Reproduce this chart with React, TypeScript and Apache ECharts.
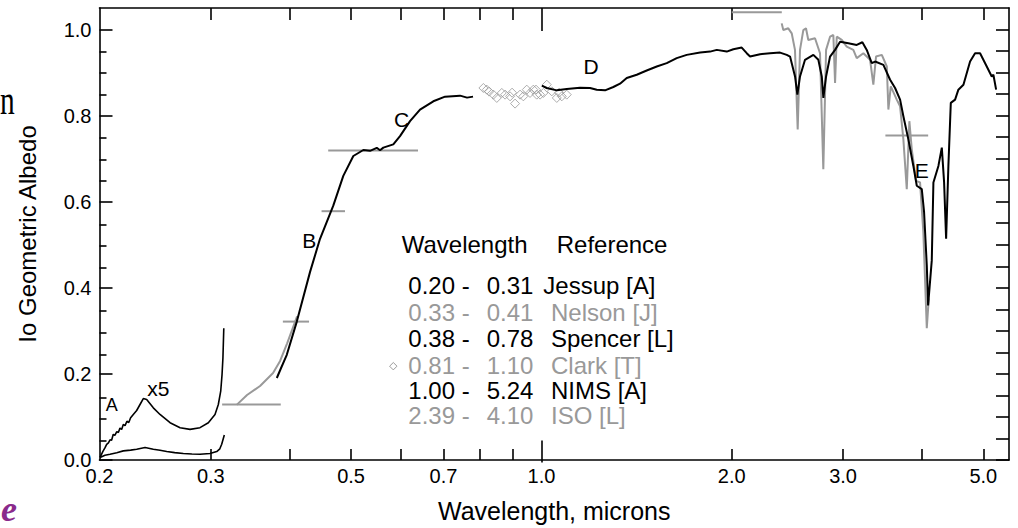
import React, { useEffect, useRef } from "react";
import * as echarts from "echarts";

// ---- axis definitions ----
const X_MIN = 0.2;
const X_MAX = 5.49;
const Y_MIN = 0;
const Y_MAX = 1.05;
const xLabelValues = [0.2, 0.3, 0.5, 0.7, 1.0, 2.0, 3.0, 5.0];
const xTickValues = [0.3, 0.4, 0.5, 0.6, 0.7, 0.8, 0.9, 2.0, 3.0, 4.0, 5.0];
const xLongTickValues = [1.0];
const yLabelValues = [0, 0.2, 0.4, 0.6, 0.8, 1.0];
const yMinorValues = [0.05, 0.1, 0.15, 0.25, 0.3, 0.35, 0.45, 0.5, 0.55, 0.65, 0.7, 0.75, 0.85, 0.9, 0.95];
const yRightValues = [0, 0.05, 0.1, 0.15, 0.2, 0.25, 0.3, 0.35, 0.4, 0.45, 0.5, 0.55, 0.6, 0.65, 0.7, 0.75, 0.8, 0.85, 0.9, 0.95, 1.0];

// ---- data: [wavelength (microns), geometric albedo] ----
const jessupRaw = [
  [0.2004, 0.0058], [0.204, 0.011], [0.2078, 0.0134], [0.213, 0.017], [0.2181, 0.0212], [0.224, 0.023],
  [0.229, 0.0249], [0.2361, 0.0289], [0.2433, 0.0249], [0.2493, 0.0225], [0.2555, 0.0196], [0.263, 0.0172],
  [0.2714, 0.015], [0.28, 0.014], [0.2884, 0.0134], [0.2991, 0.015], [0.3065, 0.0196], [0.31, 0.026],
  [0.3121, 0.0365], [0.3151, 0.0582],
];
const jessupX5 = [
  [0.2004, 0.006], [0.2025, 0.02], [0.204, 0.028], [0.2053, 0.0365], [0.2066, 0.04], [0.2078, 0.047],
  [0.209, 0.046], [0.2103, 0.0596], [0.2115, 0.057], [0.213, 0.066], [0.2142, 0.064], [0.2155, 0.074],
  [0.2168, 0.071], [0.2181, 0.0827], [0.2195, 0.08], [0.221, 0.09], [0.2225, 0.087], [0.224, 0.098],
  [0.2262, 0.1058], [0.229, 0.115], [0.2318, 0.1289], [0.2346, 0.1427], [0.2375, 0.1404], [0.2433, 0.1212],
  [0.2493, 0.1058], [0.2586, 0.0866], [0.2682, 0.0751], [0.2781, 0.0711], [0.2884, 0.0751], [0.2973, 0.0866],
  [0.3046, 0.1058], [0.3083, 0.1289], [0.311, 0.1598], [0.3125, 0.1982], [0.3135, 0.2367], [0.3145, 0.306],
];
const nelson = [
  [0.3296, 0.128], [0.3423, 0.151], [0.3589, 0.172], [0.3763, 0.202], [0.3861, 0.23], [0.3961, 0.271], [0.4107, 0.334],
];
const spencer = [
  [0.3815, 0.1905], [0.387, 0.212], [0.3956, 0.2443], [0.4103, 0.3215], [0.4306, 0.437], [0.4465, 0.5139],
  [0.4686, 0.5908], [0.486, 0.66], [0.5041, 0.7062], [0.5228, 0.7201], [0.5357, 0.7182], [0.549, 0.7252],
  [0.5556, 0.7194], [0.5623, 0.7256], [0.5831, 0.7333], [0.5975, 0.7524], [0.6197, 0.7871], [0.6427, 0.8141],
  [0.6746, 0.8333], [0.704, 0.8441], [0.7435, 0.8464], [0.7627, 0.8418], [0.7796, 0.8441],
];
const clark = [
  [0.8095, 0.8642], [0.8196, 0.8603], [0.8268, 0.8557], [0.8395, 0.8487], [0.85, 0.8411], [0.8656, 0.8527],
  [0.8761, 0.8487], [0.8921, 0.8448], [0.8987, 0.8533], [0.9085, 0.8279], [0.9252, 0.8487], [0.9363, 0.8448],
  [0.948, 0.8603], [0.9594, 0.8527], [0.971, 0.8603], [0.9804, 0.8603], [0.9831, 0.8487], [0.9952, 0.8487],
  [1.0072, 0.8527], [1.0198, 0.8718], [1.0385, 0.8564], [1.0576, 0.8411], [1.0664, 0.8533], [1.077, 0.8448],
  [1.0967, 0.8487],
];
const nims = [
  [1.0014, 0.8695], [1.0198, 0.8642], [1.0576, 0.8587], [1.0967, 0.8619], [1.1509, 0.8649], [1.1938, 0.8642],
  [1.2232, 0.8603], [1.2608, 0.8587], [1.2994, 0.8665], [1.3315, 0.8741], [1.3644, 0.8873], [1.415, 0.8949],
  [1.4674, 0.9048], [1.5221, 0.9141], [1.5784, 0.9219], [1.6369, 0.9335], [1.6975, 0.9411], [1.7825, 0.9464],
  [1.8485, 0.9487], [1.8941, 0.9527], [1.9639, 0.9487], [2.0116, 0.9543], [2.074, 0.958], [2.1122, 0.945],
  [2.138, 0.9372], [2.2174, 0.9427], [2.2996, 0.945], [2.3848, 0.9464], [2.4436, 0.9411], [2.4732, 0.9372],
  [2.5186, 0.891], [2.54, 0.8487], [2.5646, 0.891], [2.6118, 0.9296], [2.6924, 0.9411], [2.7418, 0.9296],
  [2.7762, 0.891], [2.7922, 0.8411], [2.82, 0.891], [2.8612, 0.9372], [2.9138, 0.9527], [2.9674, 0.9718],
  [3.0582, 0.9681], [3.1532, 0.9642], [3.2186, 0.9704], [3.2702, 0.9527], [3.3304, 0.9219], [3.3712, 0.9256],
  [3.4746, 0.918], [3.5604, 0.8834], [3.6258, 0.8642], [3.6924, 0.8372], [3.7368, 0.7986], [3.8054, 0.7448],
  [3.8752, 0.6831], [3.9238, 0.637], [3.996, 0.6293], [4.0294, 0.5762], [4.0694, 0.4522], [4.089, 0.3591],
  [4.144, 0.4637], [4.1688, 0.6448], [4.2454, 0.6831], [4.2984, 0.7256], [4.3342, 0.6455], [4.3662, 0.5139],
  [4.4026, 0.6831], [4.4414, 0.8296], [4.5114, 0.8372], [4.5658, 0.8603], [4.6506, 0.8718], [4.7644, 0.9256],
  [4.8518, 0.945], [4.941, 0.945], [5.0628, 0.9141], [5.1558, 0.891], [5.1868, 0.8949], [5.2384, 0.8603],
];
const iso = [
  [2.3992, 1.0143], [2.4132, 0.9988], [2.4574, 1.0028], [2.4882, 0.9912], [2.518, 0.9527], [2.543, 0.7679],
  [2.5646, 0.9527], [2.5956, 0.9988], [2.621, 1.0028], [2.6432, 0.9758], [2.7086, 0.9797], [2.7584, 0.945],
  [2.7918, 0.6755], [2.82, 0.9527], [2.8612, 0.9834], [2.8956, 0.9873], [2.9138, 0.8758], [2.9318, 0.9834],
  [2.9856, 0.9758], [3.0404, 0.9603], [3.1142, 0.9527], [3.1532, 0.9335], [3.2302, 0.945], [3.31, 0.9296],
  [3.3498, 0.8718], [3.3828, 0.9372], [3.4546, 0.9411], [3.518, 0.9141], [3.5384, 0.8141], [3.5694, 0.8679],
  [3.6478, 0.8372], [3.6924, 0.8217], [3.7368, 0.7448], [3.7834, 0.6293], [3.8194, 0.7871], [3.8528, 0.7217],
  [3.9136, 0.6485], [3.9708, 0.6448], [4.0186, 0.53], [4.0694, 0.306], [4.0994, 0.3753],
];
// broadband measurements (horizontal bars)
const barLo = [0.3126, 0.39, 0.449, 0.46, 2.0, 3.5];
const barHi = [0.387, 0.429, 0.489, 0.638, 2.4, 4.09];
const barLevel = [0.129, 0.3215, 0.578, 0.719, 1.04, 0.754];

// legend table text
const legendFrom = ["0.20 -", "0.33 -", "0.38 -", "0.81 -", "1.00 -", "2.39 -"];
const legendTo = ["0.31", "0.41", "0.78", "1.10", "5.24", "4.10"];
const legendRef = ["Jessup [A]", "Nelson [J]", "Spencer [L]", "Clark [T]", "NIMS [A]", "ISO [L]"];
const legendGray = [false, true, false, true, false, true];

const BLACK = "#000000";
const GRAY = "#999999";
const FONT = "'Liberation Sans', Arial, Helvetica, sans-serif";
const SERIF = "'Liberation Serif', 'DejaVu Serif', serif";

export default function App() {
  const ref = useRef<HTMLDivElement>(null);

  useEffect(() => {
    if (!ref.current) return;
    const chart = echarts.init(ref.current, null, { renderer: "svg" });
    const L = (v: number) => Math.log10(v);
    const toXY = (arr: number[][]) => arr.map(([w, a]) => [L(w), a]);
    const xmin = L(X_MIN);
    const xmax = L(X_MAX);
    const rect = { left: 99.5, right: 9, top: 8, bottom: 65.5 };
    const axisLineStyle = { color: BLACK, width: 1.6 };
    const tickStyle = { color: BLACK, width: 1.6 };

    const lineSeries = (data: number[][], color: string, width: number, z: number) => ({
      type: "line",
      xAxisIndex: 0,
      yAxisIndex: 0,
      data: toXY(data),
      symbol: "none",
      showSymbol: false,
      silent: true,
      lineStyle: { color, width },
      z,
    });

    const bars = barLo.map((lo, i) =>
      lineSeries([[lo, barLevel[i]], [barHi[i], barLevel[i]]], GRAY, 2, 2)
    );

    const rowY = [285.7, 312, 338.7, 365, 390.7, 415.7];
    const legendEls: any[] = [];
    legendEls.push(
      { type: "text", x: 401.7, y: 244.2, style: { text: "Wavelength", fontSize: 24, fontFamily: FONT, fill: BLACK, align: "left", verticalAlign: "middle" } },
      { type: "text", x: 556.7, y: 244.2, style: { text: "Reference", fontSize: 24, fontFamily: FONT, fill: BLACK, align: "left", verticalAlign: "middle" } }
    );
    legendFrom.forEach((f, i) => {
      const fill = legendGray[i] ? GRAY : BLACK;
      legendEls.push(
        { type: "text", x: 408.3, y: rowY[i], style: { text: f, fontSize: 24, fontFamily: FONT, fill, align: "left", verticalAlign: "middle" } },
        { type: "text", x: 486.7, y: rowY[i], style: { text: legendTo[i], fontSize: 24, fontFamily: FONT, fill, align: "left", verticalAlign: "middle" } },
        { type: "text", x: i === 0 ? 543.3 : 551, y: rowY[i], style: { text: legendRef[i], fontSize: 24, fontFamily: FONT, fill, align: "left", verticalAlign: "middle" } }
      );
    });
    legendEls.push({
      type: "polygon",
      shape: { points: [[393.3, 362.5], [397, 366.2], [393.3, 369.9], [389.6, 366.2]] },
      style: { fill: "none", stroke: GRAY, lineWidth: 1 },
    });

    const ann = (text: string, x: number, y: number, size: number) => ({
      type: "text",
      x,
      y,
      style: { text, fontSize: size, fontFamily: FONT, fill: BLACK, align: "center", verticalAlign: "middle" },
      z: 10,
    });

    const option: any = {
      animation: false,
      backgroundColor: "#ffffff",
      textStyle: { fontFamily: FONT },
      grid: [{ ...rect }, { ...rect }],
      xAxis: [
        {
          gridIndex: 0, type: "value", position: "bottom", min: xmin, max: xmax,
          axisLine: { show: true, onZero: false, lineStyle: axisLineStyle },
          splitLine: { show: false },
          axisTick: { show: true, inside: true, length: 11, customValues: xTickValues.map(L), lineStyle: tickStyle },
          axisLabel: {
            show: true, customValues: xLabelValues.map(L),
            formatter: (v: number) => Math.pow(10, v).toFixed(1),
            fontSize: 20, color: BLACK, fontFamily: FONT, margin: 6,
          },
          name: "Wavelength, microns", nameLocation: "middle", nameGap: 38,
          nameTextStyle: { fontSize: 25, color: BLACK, fontFamily: FONT },
        },
        {
          gridIndex: 0, type: "value", position: "top", min: xmin, max: xmax,
          axisLine: { show: true, onZero: false, lineStyle: axisLineStyle },
          splitLine: { show: false },
          axisTick: { show: true, inside: true, length: 12, customValues: xTickValues.map(L), lineStyle: tickStyle },
          axisLabel: { show: false },
        },
        {
          gridIndex: 1, type: "value", position: "bottom", min: xmin, max: xmax,
          axisLine: { show: false, onZero: false },
          splitLine: { show: false },
          axisTick: { show: true, inside: true, length: 22, customValues: xLongTickValues.map(L), lineStyle: tickStyle },
          axisLabel: { show: false },
        },
        {
          gridIndex: 1, type: "value", position: "top", min: xmin, max: xmax,
          axisLine: { show: false, onZero: false },
          splitLine: { show: false },
          axisTick: { show: true, inside: true, length: 23, customValues: xLongTickValues.map(L), lineStyle: tickStyle },
          axisLabel: { show: false },
        },
      ],
      yAxis: [
        {
          gridIndex: 0, type: "value", position: "left", min: Y_MIN, max: Y_MAX,
          axisLine: { show: true, onZero: false, lineStyle: axisLineStyle },
          splitLine: { show: false },
          axisTick: { show: true, inside: true, length: 13, customValues: yLabelValues, lineStyle: tickStyle },
          axisLabel: {
            show: true, customValues: yLabelValues,
            formatter: (v: number) => v.toFixed(1),
            fontSize: 20, color: BLACK, fontFamily: FONT, margin: 8,
          },
          name: "Io Geometric Albedo", nameLocation: "middle", nameGap: 60,
          nameTextStyle: { fontSize: 24, color: BLACK, fontFamily: FONT },
        },
        {
          gridIndex: 0, type: "value", position: "right", min: Y_MIN, max: Y_MAX,
          axisLine: { show: true, onZero: false, lineStyle: axisLineStyle },
          splitLine: { show: false },
          axisTick: { show: true, inside: true, length: 13, customValues: yRightValues, lineStyle: tickStyle },
          axisLabel: { show: false },
        },
        {
          gridIndex: 1, type: "value", position: "left", min: Y_MIN, max: Y_MAX,
          axisLine: { show: false, onZero: false },
          splitLine: { show: false },
          axisTick: { show: true, inside: true, length: 7, customValues: yMinorValues, lineStyle: tickStyle },
          axisLabel: { show: false },
        },
        {
          gridIndex: 1, type: "value", position: "right", min: Y_MIN, max: Y_MAX, show: false,
        },
      ],
      series: [
        ...bars,
        lineSeries(iso, GRAY, 2, 3),
        lineSeries(nelson, GRAY, 2, 3),
        lineSeries(jessupRaw, BLACK, 1.6, 4),
        lineSeries(jessupX5, BLACK, 1.6, 4),
        lineSeries(spencer, BLACK, 2, 4),
        lineSeries(nims, BLACK, 2, 4),
        {
          type: "scatter", xAxisIndex: 0, yAxisIndex: 0, data: toXY(clark), symbol: "diamond", symbolSize: 9,
          silent: true,
          itemStyle: { color: "transparent", borderColor: GRAY, borderWidth: 1 },
          z: 3,
        },
      ],
      graphic: [
        ...legendEls,
        ann("A", 111.7, 405, 18),
        ann("x5", 158.3, 388.3, 21),
        ann("B", 309.3, 240, 21),
        ann("C", 401.7, 119.3, 21),
        ann("D", 591, 66.7, 21),
        ann("E", 921.7, 170.7, 21),
        {
          type: "text", x: 0, y: 100, scaleX: 0.7,
          style: { text: "n", fontSize: 42, fontFamily: SERIF, fill: BLACK, align: "left", verticalAlign: "middle" },
        },
        {
          type: "text", x: 1, y: 509,
          style: { text: "e", fontSize: 36, fontStyle: "italic", fontWeight: "bold", fontFamily: SERIF, fill: "#8a2a8c", align: "left", verticalAlign: "middle" },
        },
      ],
    };

    chart.setOption(option);
    return () => chart.dispose();
  }, []);

  return (
    <div
      ref={ref}
      style={{ position: "absolute", left: 0, top: 0, width: 1018, height: 528, background: "#fff" }}
    />
  );
}
